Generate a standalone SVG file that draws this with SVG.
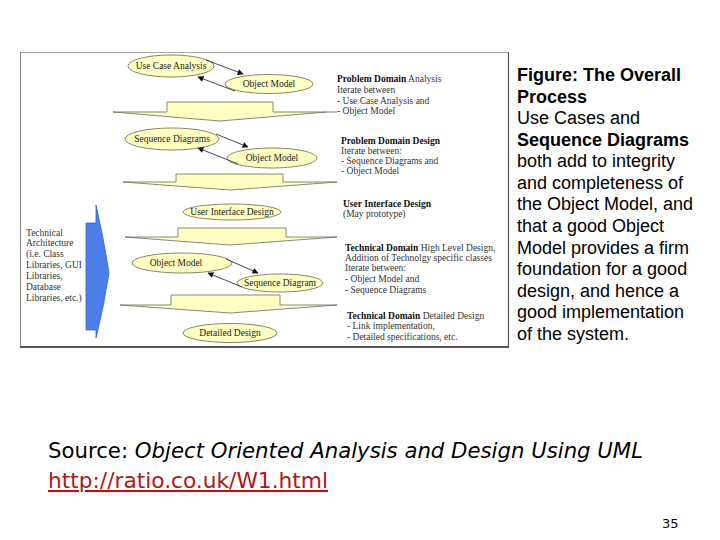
<svg xmlns="http://www.w3.org/2000/svg" width="720" height="540" viewBox="0 0 720 540">
<style>
.ell{fill:#ffffc4;stroke:#7a7a5a;stroke-width:0.9}
.band{fill:#ffffc4;stroke:#6a6a5a;stroke-width:0.8}
.et{font-family:"Liberation Serif",serif;font-size:9.5px;fill:#222;text-anchor:middle}
.st{font-family:"Liberation Serif",serif;font-size:9.5px;fill:#333}
.tt{font-family:"Liberation Serif",serif;font-size:9.5px;fill:#333}
.b{font-weight:bold;fill:#111}
.fig{font-family:"Liberation Sans",Arial,sans-serif;font-size:18px;fill:#000}
.con{stroke:#334;stroke-width:0.9;fill:none;marker-end:url(#ah)}
</style>
<defs>
<marker id="ah" viewBox="0 0 10 10" refX="9" refY="5" markerWidth="7" markerHeight="6" orient="auto" markerUnits="userSpaceOnUse">
<path d="M0,0 L10,5 L0,10 z" fill="#111"/>
</marker>
</defs>
<rect width="720" height="540" fill="#fff"/>
<g id="frame">
<line x1="20" y1="52.5" x2="509" y2="52.5" stroke="#aaa" stroke-width="1"/>
<line x1="20.5" y1="52" x2="20.5" y2="348" stroke="#888" stroke-width="1"/>
<line x1="508.5" y1="52" x2="508.5" y2="348" stroke="#555" stroke-width="1.2"/>
<line x1="20" y1="347" x2="509" y2="347" stroke="#555" stroke-width="2"/>
</g>
<g id="bands">
<path class="band" d="M113,112 L167,112 L167,102 L273,102 L273,112 L327,112 L220,121 Z"/>
<path class="band" d="M123,182 L176,182 L176,174 L283,174 L283,182 L337,182 L230,190 Z"/>
<path class="band" d="M125,237 L178,237 L178,228 L286,228 L286,237 L337,237 L230,245 Z"/>
<path class="band" d="M120,305 L171,305 L171,295 L280,295 L280,305 L337,305 L230,313 Z"/>
</g>
<g id="tech-arrow">
<path d="M86,223 L96,223 L96,205 Q104,240 109,273 Q104,306 96,338 L96,330 L86,330 Z" fill="#4d7fe8" stroke="#3560c0" stroke-width="0.8"/>
</g>
<g id="n-uca"><ellipse class="ell" cx="171" cy="66" rx="43" ry="11"/><text class="et" x="171" y="69">Use Case Analysis</text></g>
<g id="n-om1"><ellipse class="ell" cx="269" cy="84" rx="44" ry="9.5"/><text class="et" x="269" y="87">Object Model</text></g>
<g id="n-sd1"><ellipse class="ell" cx="172" cy="139" rx="47" ry="11"/><text class="et" x="172" y="142">Sequence Diagrams</text></g>
<g id="n-om2"><ellipse class="ell" cx="272" cy="158" rx="45" ry="10"/><text class="et" x="272" y="161">Object Model</text></g>
<g id="n-uid"><ellipse class="ell" cx="232" cy="212" rx="49" ry="8"/><text class="et" x="232" y="215">User Interface Design</text></g>
<g id="n-om3"><ellipse class="ell" cx="182" cy="263" rx="50" ry="10"/><text class="et" x="176" y="266">Object Model</text></g>
<g id="n-sd2"><ellipse class="ell" cx="280" cy="283" rx="43" ry="9"/><text class="et" x="280" y="286">Sequence Diagram</text></g>
<g id="n-dd"><ellipse class="ell" cx="230" cy="333" rx="47" ry="9.5"/><text class="et" x="230" y="336">Detailed Design</text></g>
<g id="connectors">
<line class="con" x1="206" y1="60" x2="243" y2="74"/>
<line class="con" x1="235" y1="91" x2="198" y2="77"/>
<line class="con" x1="216" y1="134" x2="248" y2="147"/>
<line class="con" x1="238" y1="164" x2="198" y2="148"/>
<line class="con" x1="226" y1="259" x2="258" y2="273"/>
<line class="con" x1="242" y1="287" x2="208" y2="273"/>
<line x1="327" y1="112" x2="337" y2="112" stroke="#666" stroke-width="0.8"/>
</g>
<g id="tech-text" class="tt">
<text x="26" y="236">Technical</text>
<text x="26" y="246">Architecture</text>
<text x="26" y="257">(i.e. Class</text>
<text x="26" y="268">Libraries, GUI</text>
<text x="26" y="279">Libraries,</text>
<text x="26" y="290">Database</text>
<text x="26" y="301">Libraries, etc.)</text>
</g>
<g id="notes" class="st">
<text x="337" y="82"><tspan class="b">Problem Domain</tspan> Analysis</text>
<text x="337" y="93">Iterate between</text>
<text x="337" y="104">- Use Case Analysis and</text>
<text x="337" y="114">- Object Model</text>
<text x="341" y="144" class="b">Problem Domain Design</text>
<text x="341" y="154">Iterate between:</text>
<text x="341" y="164">- Sequence Diagrams and</text>
<text x="341" y="174">- Object Model</text>
<text x="343" y="207" class="b">User Interface Design</text>
<text x="343" y="217">(May prototype)</text>
<text x="345" y="251"><tspan class="b">Technical Domain</tspan> High Level Design,</text>
<text x="345" y="261">Addition of Technolgy specific classes</text>
<text x="345" y="271">Iterate between:</text>
<text x="345" y="282">- Object Model and</text>
<text x="345" y="293">- Sequence Diagrams</text>
<text x="347" y="319"><tspan class="b">Technical Domain</tspan> Detailed Design</text>
<text x="347" y="329">- Link implementation,</text>
<text x="347" y="340">- Detailed specifications, etc.</text>
</g>
<g id="figure-text" class="fig">
<text x="517" y="81" font-weight="bold">Figure: The Overall</text>
<text x="517" y="103" font-weight="bold">Process</text>
<text x="517" y="124">Use Cases and</text>
<text x="517" y="146" font-weight="bold">Sequence Diagrams</text>
<text x="517" y="167">both add to integrity</text>
<text x="517" y="189">and completeness of</text>
<text x="517" y="210">the Object Model, and</text>
<text x="517" y="232">that a good Object</text>
<text x="517" y="254">Model provides a firm</text>
<text x="517" y="275">foundation for a good</text>
<text x="517" y="297">design, and hence a</text>
<text x="517" y="318">good implementation</text>
<text x="517" y="340">of the system.</text>
</g>
<g id="source">
<text x="48" y="458" font-family="'DejaVu Sans',Verdana,sans-serif" font-size="21px" fill="#000" textLength="595" lengthAdjust="spacingAndGlyphs">Source: <tspan font-style="italic">Object Oriented Analysis and Design Using UML</tspan></text>
<text x="48" y="488" font-family="'DejaVu Sans',Verdana,sans-serif" font-size="21px" fill="#b01818" text-decoration="underline" textLength="280" lengthAdjust="spacingAndGlyphs">http://ratio.co.uk/W1.html</text>
<text x="662" y="528" font-family="'DejaVu Sans',Verdana,sans-serif" font-size="13px" fill="#000">35</text>
</g>
</svg>
